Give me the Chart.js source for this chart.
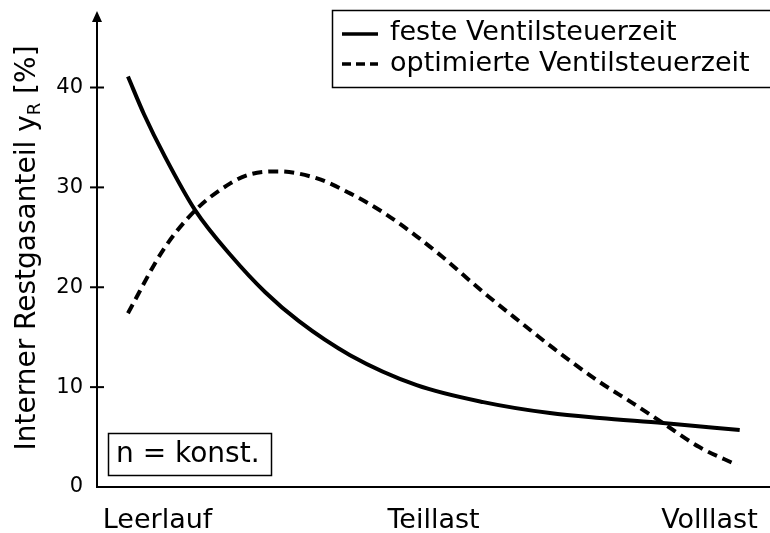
<!DOCTYPE html>
<html>
<head>
<meta charset="utf-8">
<script src="https://cdn.jsdelivr.net/npm/chart.js@4.4.0/dist/chart.umd.min.js"></script>
<style>
  html, body { margin: 0; padding: 0; background: #fff; }
  #wrap { width: 770px; height: 533px; position: relative; }
</style>
</head>
<body>
<div id="wrap"><canvas id="myChart" width="770" height="533"></canvas></div>
<script>
// load positions (0..100)
const loadTicks = [9, 50, 91];
const loadLabels = ['Leerlauf', 'Teillast', 'Volllast'];

const xFest = [4.6, 7, 10, 14.6, 20, 25, 30, 37.6, 47.5, 57.4, 67.3, 74.7, 84.1, 95.5];
const yFest = [41.1, 37.3, 33.2, 27.7, 23.1, 19.5, 16.6, 13.2, 10.2, 8.5, 7.4, 6.9, 6.4, 5.7];

const xOpt = [4.6, 9.8, 14.6, 19.8, 22.7, 26.9, 32.7, 37.6, 42.5, 47.5, 51.4, 57.4, 63.3, 67.8, 74.7, 79.6, 84.1, 89.5, 95.1];
const yOpt = [17.4, 23.7, 27.7, 30.4, 31.3, 31.6, 30.9, 29.4, 27.5, 25.1, 23.0, 19.5, 16.3, 13.9, 10.5, 8.4, 6.4, 4.0, 2.2];

const yTicks = [0, 10, 20, 30, 40];
const seriesNames = ['feste Ventilsteuerzeit', 'optimierte Ventilsteuerzeit'];
const yTitle = 'Interner Restgasanteil y';
const yTitleSub = 'R';
const yTitleEnd = ' [%]';
const noteText = 'n = konst.';

function pts(xs, ys) {
    return xs.map((x, i) => ({ x: x, y: ys[i] }));
}

const FONT = '"DejaVu Sans", Verdana, sans-serif';

const extras = {
    id: 'extras',
    afterDraw(chart) {
        const c = chart.ctx;
        const a = chart.chartArea;
        const ys = chart.scales.y;
        c.save();
        c.strokeStyle = '#000';
        c.fillStyle = '#000';
        // y axis with arrow
        c.lineWidth = 2;
        c.beginPath();
        c.moveTo(a.left, a.bottom);
        c.lineTo(a.left, 20);
        c.stroke();
        c.beginPath();
        c.moveTo(a.left, 11);
        c.lineTo(a.left - 5, 22);
        c.lineTo(a.left + 5, 22);
        c.closePath();
        c.fill();
        // tick marks crossing the axis
        yTicks.forEach(v => {
            if (v === 0) return;
            const py = ys.getPixelForValue(v);
            c.beginPath();
            c.moveTo(a.left - 7, py);
            c.lineTo(a.left + 7, py);
            c.stroke();
        });
        // y title with subscript
        c.save();
        c.translate(28, 248);
        c.rotate(-Math.PI / 2);
        c.font = '28px ' + FONT;
        c.textBaseline = 'middle';
        const w1 = c.measureText(yTitle).width;
        c.font = '18px ' + FONT;
        const w2 = c.measureText(yTitleSub).width;
        c.font = '28px ' + FONT;
        const w3 = c.measureText(yTitleEnd).width;
        let x0 = -(w1 + w2 + w3) / 2;
        c.textAlign = 'left';
        c.fillText(yTitle, x0, 0);
        c.font = '18px ' + FONT;
        c.fillText(yTitleSub, x0 + w1, 7);
        c.font = '28px ' + FONT;
        c.fillText(yTitleEnd, x0 + w1 + w2, 0);
        c.restore();
        // legend box
        c.lineWidth = 1.5;
        c.strokeRect(332.5, 10.5, 450, 77);
        c.font = '27px ' + FONT;
        c.textBaseline = 'middle';
        c.textAlign = 'left';
        c.lineWidth = 3.5;
        c.beginPath();
        c.moveTo(342, 34);
        c.lineTo(378, 34);
        c.stroke();
        c.setLineDash([9, 5]);
        c.beginPath();
        c.moveTo(342, 64);
        c.lineTo(378, 64);
        c.stroke();
        c.setLineDash([]);
        c.fillText(seriesNames[0], 390, 33);
        c.fillText(seriesNames[1], 390, 64);
        // note box
        c.lineWidth = 1.5;
        c.strokeRect(108.5, 433.5, 163, 42);
        c.font = '28px ' + FONT;
        c.fillText(noteText, 116, 455);
        c.restore();
    }
};

const ctx = document.getElementById('myChart').getContext('2d');
const myChart = new Chart(ctx, {
    type: 'line',
    data: {
        datasets: [{
            label: seriesNames[0],
            data: pts(xFest, yFest),
            borderColor: '#000',
            borderWidth: 4,
            pointRadius: 0,
            cubicInterpolationMode: 'monotone',
            fill: false
        }, {
            label: seriesNames[1],
            data: pts(xOpt, yOpt),
            borderColor: '#000',
            borderWidth: 4,
            borderDash: [10, 6],
            pointRadius: 0,
            cubicInterpolationMode: 'monotone',
            fill: false
        }]
    },
    options: {
        responsive: false,
        animation: false,
        layout: { padding: { top: 0, right: 0, left: 0, bottom: 0 } },
        plugins: {
            legend: { display: false },
            tooltip: { enabled: false }
        },
        scales: {
            x: {
                type: 'linear',
                min: 0,
                max: 100,
                grid: { display: false },
                border: { display: true, color: '#000', width: 2 },
                afterBuildTicks: s => { s.ticks = loadTicks.map(v => ({ value: v })); },
                afterFit: s => { s.height = 46; },
                ticks: {
                    autoSkip: false,
                    maxRotation: 0,
                    padding: 10,
                    color: '#000',
                    font: { family: FONT, size: 27 },
                    callback: (v) => loadLabels[loadTicks.indexOf(v)]
                }
            },
            y: {
                min: 0,
                max: 46.9,
                grid: { display: false },
                border: { display: false },
                afterBuildTicks: s => { s.ticks = yTicks.map(v => ({ value: v })); },
                afterFit: s => { s.width = 97; },
                ticks: {
                    padding: 6,
                    color: '#000',
                    font: { family: FONT, size: 21 }
                }
            }
        }
    },
    plugins: [extras]
});
</script>
</body>
</html>
